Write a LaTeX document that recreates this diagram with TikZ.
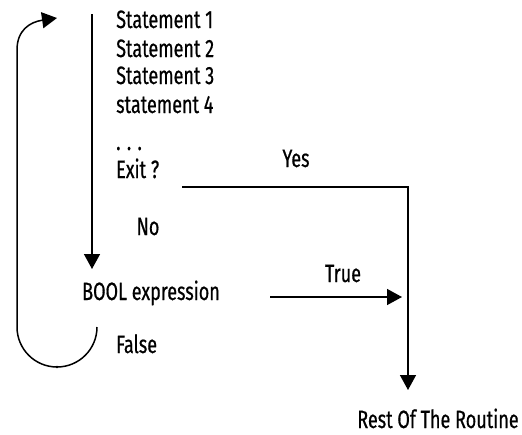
\documentclass[tikz,border=0pt]{standalone}
\usepackage{fontspec}
\setmainfont{Fira Sans}[FakeStretch=0.72,FakeBold=0.6]
\usepackage{tikz}
\usetikzlibrary{arrows.meta}

\tikzset{
  txt/.style={anchor=base west, inner sep=0pt, font=\fontsize{25}{25}\selectfont},
  ctxt/.style={anchor=base, inner sep=0pt, font=\fontsize{25}{25}\selectfont},
  flow/.style={line width=1.5pt, -{Triangle[width=16pt,length=15pt]}},
  plain/.style={line width=1.5pt}
}

\begin{document}
\begin{tikzpicture}[x=1pt,y=-1pt]
\useasboundingbox (0,0) rectangle (522,434);
\node[txt] (1) at (116,28) {Statement 1};
\node[txt] (2) at (116,57) {Statement 2};
\node[txt] (3) at (116,84) {Statement 3};
\node[txt] (4) at (116,113) {statement 4};
\node[txt] (5) at (116,150) {. . .};
\node[txt] (6) at (116,178) {Exit ?};
\node[ctxt] (7) at (296,167) {Yes};
\node[ctxt] (8) at (148,235) {No};
\node[txt] (9) at (82,300) {BOOL expression};
\node[ctxt] (10) at (343,282) {True};
\node[txt] (11) at (116,353) {False};
\node[ctxt] (12) at (438,428) {Rest Of The Routine};
\coordinate (13) at (92,14);
\coordinate (14) at (182,187);
\coordinate (15) at (408,187);
\coordinate (16) at (270,297);
\coordinate (17) at (97,327);
\coordinate (18) at (57,18);
\draw[flow] (13) -- (92,269);
\draw[flow] (14) -- (15) -- (408,390);
\draw[flow] (16) -- (402,297);
\draw[flow] (17) arc[start angle=0, end angle=180, radius=40] -- (17,50)
  .. controls (17,30) and (30,22) .. (18);
\fill (57,367) circle (1.3);
\end{tikzpicture}
\end{document}
